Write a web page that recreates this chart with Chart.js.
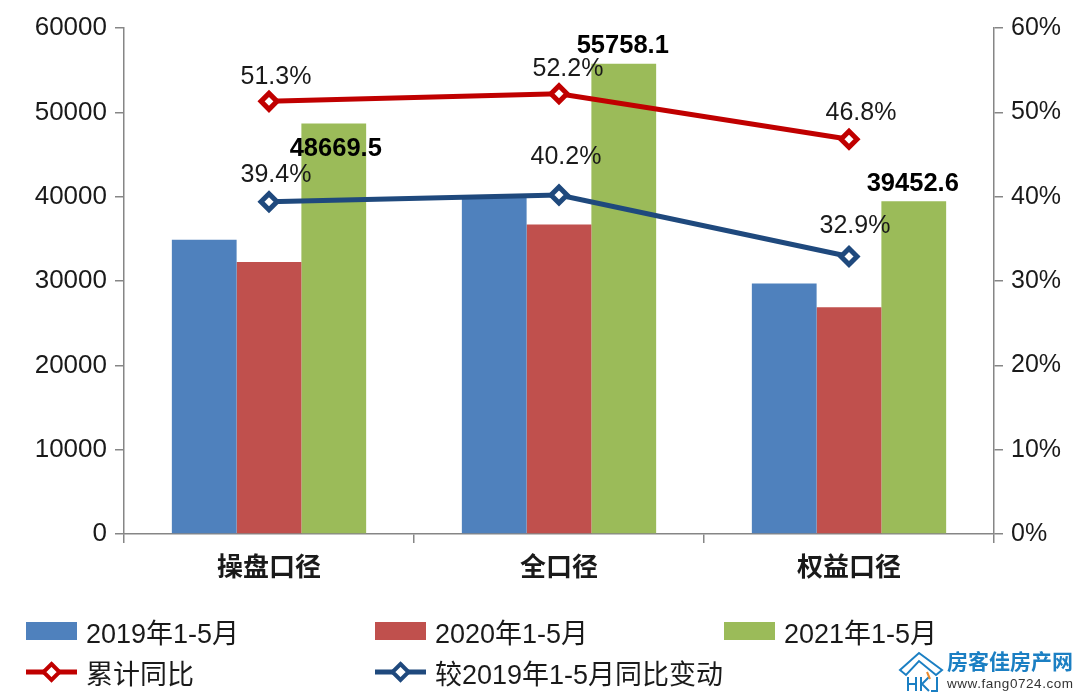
<!DOCTYPE html>
<html lang="zh">
<head>
<meta charset="utf-8">
<title>操盘口径 全口径 权益口径</title>
<script src="https://cdn.jsdelivr.net/npm/chart.js@4"></script>
<style>
  html, body { margin: 0; padding: 0; background: #fff; }
  #wrap { position: relative; width: 1080px; height: 697px; overflow: hidden; }
  #chart { position: absolute; left: 0; top: 0; }
  .font { font-family: "Liberation Sans", "Noto Sans CJK SC", sans-serif; }
  .legend-item { position: absolute; display: flex; align-items: center; height: 40px; font-size: 27px; color: #1a1a1a; white-space: nowrap; }
  .swatch { width: 51px; height: 18px; margin-right: 9px; }
  .legend-item svg { margin-right: 9px; }
  #logo { position: absolute; left: 898px; top: 650px; width: 180px; height: 44px; }
  #logo .name { position: absolute; left: 49px; top: 0; font-size: 21px; line-height: 24px; font-weight: 700; color: #1b7fc3; white-space: nowrap; }
  #logo .site { position: absolute; left: 49px; top: 26px; font-size: 13.5px; line-height: 16px; letter-spacing: 0.55px; color: #333; white-space: nowrap; }
</style>
</head>
<body>
<div id="wrap" class="font">
  <canvas id="chart" width="1080" height="697"></canvas>
  <div id="legend"></div>
  <div id="logo">
    <svg width="46" height="44" viewBox="0 0 46 44">
      <g fill="none" stroke="#1b7fc3" stroke-width="2">
        <path d="M2 20 L21 3 L44 20 L38 25 L21 11 L8 25 Z"/>
        <path d="M10 27 V41 M18 27 V41 M10 34 H18"/>
        <path d="M23 27 V41 M31 27 L24 34 L31 41"/>
        <path d="M39 27 V41 H33"/>
      </g>
      <path d="M29 22 L32 29" stroke="#e98a2d" stroke-width="2"/>
    </svg>
    <span class="name">房客佳房产网</span>
    <span class="site">www.fang0724.com</span>
  </div>
</div>

<script>
// ── Chart data ───────────────────────────────────────────────
const categories = ['操盘口径', '全口径', '权益口径'];
const values2019 = [34900, 39900, 29700];
const values2020 = [32250, 36700, 26900];
const values2021 = [48669.5, 55758.1, 39452.6];
const cumulativeYoy = [51.3, 52.2, 46.8];
const versus2019Yoy = [39.4, 40.2, 32.9];

const leftTicks = [0, 10000, 20000, 30000, 40000, 50000, 60000];
const rightTicks = [0, 10, 20, 30, 40, 50, 60];

const FONT = '"Liberation Sans", "Noto Sans CJK SC", sans-serif';
const TEXT = '#1a1a1a';
const AXIS = '#868686';

// Label nudges from each mark, in pixels
const labelOffsets = {
    '2021年1-5月':  [[2, 25], [-1, -18], [-1, -17]],
    '累计同比':      [[7, -24], [9, -25], [12, -26]],
    '较2019年1-5月同比变动': [[7, -27], [7, -38], [6, -30]]
};

// ── Value labels drawn next to the marks ─────────────────────
const valueLabels = {
    id: 'valueLabels',
    afterDatasetsDraw(chart) {
        const ctx = chart.ctx;
        ctx.save();
        ctx.textAlign = 'center';
        ctx.textBaseline = 'middle';
        chart.data.datasets.forEach((ds, i) => {
            const offsets = labelOffsets[ds.label];
            if (!offsets) return;
            const isLine = ds.type === 'line';
            ctx.font = (isLine ? '' : 'bold ') + (isLine ? '25px ' : '25.5px ') + FONT;
            ctx.fillStyle = isLine ? TEXT : '#000';
            chart.getDatasetMeta(i).data.forEach((el, j) => {
                const text = isLine ? ds.data[j].toFixed(1) + '%' : ds.data[j].toFixed(1);
                ctx.fillText(text, el.x + offsets[j][0], el.y + offsets[j][1]);
            });
        });
        ctx.restore();
    }
};

const lineDataset = (label, data, color) => ({
    type: 'line',
    label,
    data,
    yAxisID: 'yRight',
    order: 1,
    borderColor: color,
    borderWidth: 5,
    tension: 0,
    pointStyle: 'rectRot',
    pointRadius: 8,
    pointBorderWidth: 5,
    pointBackgroundColor: '#fff',
    pointBorderColor: color
});

const barDataset = (label, data, color) => ({
    label,
    data,
    yAxisID: 'yLeft',
    order: 2,
    backgroundColor: color,
    categoryPercentage: 0.67,
    barPercentage: 1
});

const chart = new Chart(document.getElementById('chart'), {
    type: 'bar',
    data: {
        labels: categories,
        datasets: [
            barDataset('2019年1-5月', values2019, '#4F81BD'),
            barDataset('2020年1-5月', values2020, '#C0504D'),
            barDataset('2021年1-5月', values2021, '#9BBB59'),
            lineDataset('累计同比', cumulativeYoy, '#C00000'),
            lineDataset('较2019年1-5月同比变动', versus2019Yoy, '#1F497D')
        ]
    },
    options: {
        responsive: false,
        animation: false,
        layout: { padding: { top: 28, left: 0, right: 0, bottom: 0 } },
        plugins: { legend: { display: false }, tooltip: { enabled: false } },
        scales: {
            x: {
                offset: true,
                afterFit: s => { s.height = 163; },
                border: { color: AXIS, width: 1.5 },
                grid: { display: true, offset: true, drawOnChartArea: false, drawTicks: true, tickLength: 9, color: AXIS, lineWidth: 1.5 },
                ticks: { color: TEXT, padding: 10, font: { family: FONT, size: 26, weight: 'bold' }, maxRotation: 0 }
            },
            yLeft: {
                position: 'left',
                min: 0,
                max: 60000,
                afterFit: s => { s.width = 124; },
                afterBuildTicks: s => { s.ticks = leftTicks.map(value => ({ value })); },
                border: { color: AXIS, width: 1.5 },
                grid: { drawOnChartArea: false, tickLength: 9, color: AXIS, lineWidth: 1.5 },
                ticks: { color: TEXT, padding: 8, font: { family: FONT, size: 26 }, callback: v => String(v) }
            },
            yRight: {
                position: 'right',
                min: 0,
                max: 60,
                afterFit: s => { s.width = 86; },
                afterBuildTicks: s => { s.ticks = rightTicks.map(value => ({ value })); },
                border: { color: AXIS, width: 1.5 },
                grid: { drawOnChartArea: false, tickLength: 9, color: AXIS, lineWidth: 1.5 },
                ticks: { color: TEXT, padding: 8, font: { family: FONT, size: 25 }, callback: v => v + '%' }
            }
        }
    },
    plugins: [valueLabels]
});

// ── Legend built from the chart's datasets ───────────────────
const legendSlots = [[26, 611], [375, 611], [724, 611], [26, 652], [375, 652]];
const legendBox = document.getElementById('legend');
chart.data.datasets.forEach((ds, i) => {
    const item = document.createElement('div');
    item.className = 'legend-item';
    item.style.left = legendSlots[i][0] + 'px';
    item.style.top = legendSlots[i][1] + 'px';
    const isLine = ds.type === 'line';
    const key = isLine
        ? `<svg width="51" height="22" viewBox="0 0 51 22"><path d="M0 11H51" stroke="${ds.borderColor}" stroke-width="5"/><path d="M25.5 3L33.5 11L25.5 19L17.5 11Z" fill="#fff" stroke="${ds.borderColor}" stroke-width="4"/></svg>`
        : `<span class="swatch" style="background:${ds.backgroundColor}"></span>`;
    item.innerHTML = key + `<span>${ds.label}</span>`;
    legendBox.appendChild(item);
});
</script>
</body>
</html>
